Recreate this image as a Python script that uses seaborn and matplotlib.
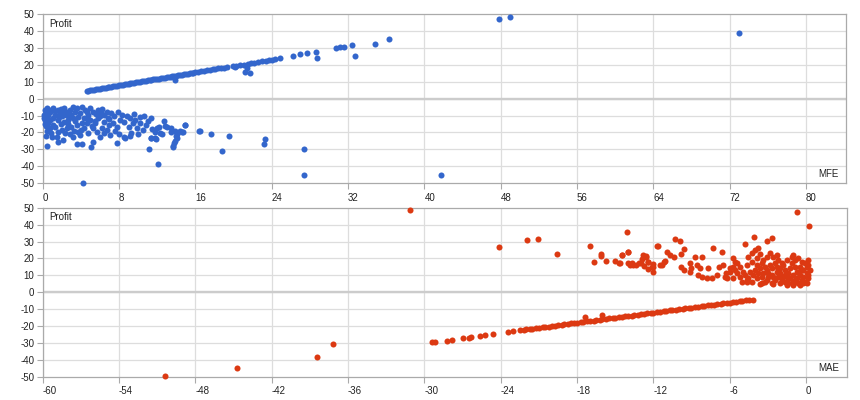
import pandas as pd
import matplotlib
matplotlib.use("Agg")
import matplotlib.pyplot as plt
import seaborn as sns

# ---- data ----
# top panel: MFE vs Profit
mfe_line = [4.6, 4.8, 5.0, 5.2, 5.4, 5.6, 5.8, 6.0, 6.2, 6.4, 6.6, 6.8, 7.0, 7.2, 7.4, 7.6,
            7.8, 8.0, 8.2, 8.4, 8.6, 8.8, 9.0, 9.2, 9.4, 9.6, 9.8, 10.0, 10.2, 10.4, 10.6,
            10.8, 11.0, 11.2, 11.4, 11.6, 11.8, 12.0, 12.2, 12.4, 12.6, 12.8, 13.0, 13.2,
            13.4, 13.6, 13.8, 14.0, 14.2, 14.4, 14.6, 14.8, 15.0, 15.2, 15.4, 15.6, 15.8,
            16.0, 16.3, 16.6, 16.9, 17.2, 17.5, 17.8, 18.1, 18.4, 18.7, 19.0, 19.3,
            19.9, 20.3, 20.7, 21.1, 21.5, 21.8, 22.2, 22.6, 23.0, 23.4, 23.7, 24.0, 24.3,
            24.9, 26.2, 27.0, 27.7, 28.6, 30.7, 31.2, 31.6, 32.4, 34.8, 36.3, 47.8, 49.0, 73.0]
profit_line = [4.7, 4.8, 5.0, 5.3, 5.4, 5.6, 5.8, 6.0, 6.2, 6.4, 6.6, 6.8, 7.0, 7.1, 7.4, 7.5,
               7.7, 7.9, 8.1, 8.3, 8.5, 8.7, 8.9, 9.1, 9.3, 9.4, 9.6, 9.8, 10.0, 10.2, 10.4,
               10.6, 10.8, 11.0, 11.2, 11.4, 11.5, 11.7, 11.9, 12.1, 12.3, 12.5, 12.7, 12.9,
               13.1, 13.3, 13.4, 13.6, 13.8, 14.0, 14.2, 14.4, 14.6, 14.8, 15.0, 15.2, 15.4,
               15.6, 15.8, 16.1, 16.4, 16.7, 17.0, 17.3, 17.6, 17.9, 18.1, 18.4, 18.7,
               19.3, 19.5, 19.9, 20.2, 20.7, 21.0, 21.4, 21.8, 22.2, 22.5, 22.9, 23.2, 23.5,
               24.3, 25.5, 26.3, 27.1, 27.8, 30.0, 30.4, 30.8, 31.6, 32.6, 35.5, 47.0, 48.4, 38.9]

mfe_other = [13.9, 21.2, 21.7, 21.4, 28.8, 32.7, 20.2]
profit_other = [11.1, 16.0, 15.4, 18.0, 24.3, 25.3, 18.6]

mfe_loss = [4.2, 0.4, 0.35, 4.1, 3.6, 5.1, 5.3, 7.8, 8.5, 9.2, 11.1, 12.1, 11.9, 11.3, 13.7,
            13.8, 14.1, 14.9, 14.6, 13.9, 13.4, 12.8, 12.2, 12.3, 12.5, 11.3, 11.0, 10.8,
            10.2, 9.9, 9.7, 9.2, 8.8, 8.5, 8.1, 7.8, 7.4, 7.2, 6.7, 6.4, 6.1, 5.8, 5.5, 5.3,
            5.7, 6.4, 6.7, 6.9, 7.1, 6.0, 4.8, 4.3, 3.7, 3.9, 3.2, 2.9, 2.3, 1.6, 1.5, 1.1,
            0.8, 0.6, 0.25, 0.14, 0.2, 0.4, 0.8, 1.1, 1.6, 1.8, 2.2, 2.5, 2.9, 3.2, 3.6, 4.1,
            4.4, 5.0, 5.3, 4.8, 4.3, 3.7, 3.2, 2.7, 2.2, 1.6, 1.1, 0.8, 0.4, 3.6, 3.0, 2.5,
            4.6, 5.0, 4.1, 5.8, 6.4, 7.9, 9.0, 9.5, 10.2, 10.6, 11.8, 12.0, 13.0, 13.5, 14.4,
            14.1, 9.3, 8.6, 1.6, 0.5, 1.3, 2.0, 2.6, 3.4, 1.9, 0.3, 0.9, 2.1, 14.7, 14.9,
            16.4, 16.5, 17.6, 18.8, 19.5, 23.2, 23.3, 13.7, 13.9, 14.0, 11.4, 11.8, 27.4,
            27.4, 41.7,
            0.3, 0.6, 0.9, 1.3, 1.9, 2.4, 2.8, 3.4, 3.9, 4.6, 5.6, 6.0, 6.8, 7.5, 8.3, 5.2,
            4.0, 2.0, 1.3, 0.5, 0.2, 1.0, 2.6, 3.3, 6.2, 7.6, 8.0, 10.5, 10.0, 11.5, 12.7,
            9.6, 0.15, 1.7, 2.3, 3.0, 4.7, 6.2, 7.0, 5.5]
profit_loss = [-50.0, -27.9, -22.0, -27.1, -27.1, -28.9, -25.9, -26.5, -22.6, -22.0, -30.1,
               -38.9, -24.1, -23.5, -28.5, -26.5, -23.1, -15.6, -19.6, -19.2, -17.6, -16.0,
               -16.6, -20.2, -21.2, -11.7, -13.3, -15.6, -14.6, -17.6, -12.7, -11.3, -10.1,
               -13.7, -12.7, -16.6, -14.6, -8.7, -7.7, -9.7, -7.7, -11.7, -14.6, -17.6, -19.6,
               -20.6, -18.6, -15.6, -21.6, -22.6, -20.6, -17.6, -19.6, -21.6, -22.6, -21.2,
               -20.2, -19.6, -22.6, -15.6, -17.6, -14.6, -12.7, -9.7, -6.7, -5.8, -7.7, -5.8,
               -6.7, -8.7, -5.8, -7.7, -6.7, -4.8, -5.8, -4.8, -6.7, -5.8, -7.7, -9.7, -11.7,
               -10.7, -11.7, -12.7, -13.7, -12.7, -11.7, -12.7, -10.7, -15.6, -16.6, -17.6,
               -14.6, -12.7, -14.6, -6.7, -13.7, -7.7, -16.6, -14.6, -11.0, -10.1, -19.6,
               -17.6, -16.6, -19.6, -19.0, -21.2, -20.6, -23.5, -25.5, -8.5, -9.5, -10.5, -9.0,
               -8.2, -15.0, -16.5, -20.5, -24.5, -19.9, -15.8, -19.0, -19.2, -21.0, -31.0,
               -21.9, -27.1, -23.7, -27.9, -25.4, -22.4, -23.5, -23.5, -30.0, -45.4, -45.4,
               -8.0, -9.5, -6.5, -7.2, -6.0, -9.8, -11.0, -13.5, -8.8, -8.0, -9.0, -10.5,
               -11.5, -10.0, -9.5, -16.0, -18.5, -18.5, -17.0, -19.0, -15.0, -22.5, -15.0,
               -19.0, -17.5, -19.0, -21.0, -18.5, -21.0, -18.0, -13.5, -9.0, -11.5, -11.0,
               -8.0, -9.8, -12.2, -6.0, -12.0, -13.2]

# bottom panel: MAE vs Profit
mae_line = [-29.4, -29.2, -28.2, -27.8, -27.0, -26.5, -26.3, -25.6, -25.2, -24.6, -23.4,
            -23.0, -22.5, -22.2, -22.0, -21.7, -21.5, -21.2, -21.0, -20.7, -20.5, -20.2,
            -20.0, -19.7, -19.5, -19.2, -19.0, -18.7, -18.5, -18.2, -18.0, -17.7, -17.5,
            -17.2, -17.0, -16.7, -16.5, -16.2, -16.0, -15.7, -15.5, -15.2, -15.0, -14.7,
            -14.5, -14.2, -14.0, -13.7, -13.5, -13.2, -13.0, -12.7, -12.5, -12.2, -12.0,
            -11.7, -11.5, -11.2, -11.0, -10.7, -10.5, -10.2, -10.0, -9.7, -9.5, -9.2, -9.0,
            -8.7, -8.5, -8.2, -8.0, -7.7, -7.5, -7.2, -7.0, -6.7, -6.5, -6.2, -6.0, -5.7,
            -5.5, -5.2, -5.0, -4.7, -4.5, -4.2, -17.4, -16.0]
profit_line2 = [-29.6, -29.5, -28.7, -28.3, -27.3, -26.9, -26.5, -25.7, -25.5, -24.7, -23.3,
                -22.9, -22.5, -22.1, -22.0, -21.8, -21.5, -21.3, -21.1, -20.8, -20.6, -20.3,
                -20.0, -19.8, -19.6, -19.2, -19.1, -18.8, -18.5, -18.3, -18.0, -17.8, -17.5,
                -17.3, -17.1, -16.8, -16.5, -16.3, -16.0, -15.8, -15.5, -15.3, -15.1, -14.8,
                -14.5, -14.3, -14.0, -13.8, -13.6, -13.3, -13.1, -12.8, -12.5, -12.3, -12.1,
                -11.8, -11.5, -11.3, -11.1, -10.8, -10.6, -10.3, -10.1, -9.8, -9.6, -9.3, -9.1,
                -8.8, -8.6, -8.3, -8.1, -7.8, -7.6, -7.3, -7.1, -6.8, -6.6, -6.3, -6.1, -5.8,
                -5.6, -5.3, -5.1, -4.8, -4.6, -4.4, -14.9, -13.5]

mae_gain = [-4.53, -4.27, -4.01, -3.74, -3.61, -3.87, -3.35, -3.09, -2.83, -2.57, -2.30, -2.17,
            -2.43, -2.83, -3.22, -3.61, -4.01, -4.40, -4.79, -5.18, -5.45, -5.71, -5.05, -4.66,
            -4.27, -3.87, -3.48, -3.09, -2.70, -2.30, -2.04, -1.78, -1.52, -1.26, -0.99, -0.73,
            -0.47, -0.21, 0.05, 0.18, -0.08, -0.34, -0.60, -0.86, -1.13, -1.39, -1.65, -1.91,
            -1.52, -1.13, -0.99, -0.86, -0.60, -0.34, -0.08, 0.05, 0.18, -0.21, -0.47, -0.73,
            -0.99, -1.39, -1.65, -1.91, -2.17, -2.43, -2.70, -2.96, -3.22, -3.48, -3.74, -4.14,
            -4.53, -4.92, -5.18, -5.45, -5.71, -5.97, -6.23, -6.36, -5.58, -4.66, -4.27, -3.87,
            -3.48, -3.09, -2.70, -2.30, 0.05, 0.18, 0.31, 0.18, -0.34, -0.86, -1.26, -1.65,
            -2.04, -2.57, -2.96, -3.35, -1.78, -1.13, -0.60, -0.21, -0.47, -0.99, -1.52, -2.04,
            -2.57, -3.61, -4.66,
            -0.7, 0.2, -4.1, -3.1, -2.7, -4.8, -10.3, -9.9, -11.6, -7.3, -14.0, -14.5, -12.8,
            -12.6, -10.9, -10.7, -10.4, -9.6, -9.8, -8.7, -8.2, -13.7, -13.4, -13.0, -11.3,
            -11.2, -11.1, -9.8, -9.6, -9.1, -9.0, -8.6, -8.3, -9.1, -8.5, -8.2, -7.8, -7.4,
            -7.0, -7.7, -6.8, -6.5, -6.3, -6.0, -5.6, -5.7, -14.6, -12.4, -12.1, -12.0, -6.6,
            -31.1, -24.1, -21.9, -21.1, -19.6, -17.0, -16.7, -16.1, -16.1, -15.7, -15.0, -14.7,
            -14.5, -14.1, -14.0, -14.0, -13.8, -13.6, -13.1, -12.9, -12.6, -12.4, -12.7, -12.4,
            -12.0, -12.0, -11.7, -11.5]
profit_gain = [21.0, 23.0, 25.0, 26.0, 22.4, 20.0, 19.1, 21.0, 23.0, 21.0, 22.0, 19.1,
               17.1, 16.1, 15.1, 14.1, 13.1, 11.8, 10.2, 9.2, 11.2, 8.2, 6.2, 7.2,
               5.8, 8.2, 9.2, 7.2, 10.2, 12.1, 14.1, 9.2, 6.2, 8.2, 10.2, 12.1,
               15.1, 13.1, 11.2, 8.2, 6.2, 7.2, 5.2, 7.2, 5.2, 11.2, 13.1, 17.1,
               19.1, 21.0, 22.0, 19.1, 20.0, 18.1, 17.1, 15.1, 16.1, 9.2, 10.2, 8.2,
               5.8, 8.2, 5.8, 7.2, 9.2, 7.2, 5.2, 9.2, 6.2, 5.2, 11.2, 10.2,
               8.2, 12.1, 15.1, 17.1, 15.1, 12.1, 8.2, 9.2, 13.1, 16.1, 18.1, 16.1,
               17.1, 13.1, 14.1, 15.1, 5.2, 10.2, 13.1, 19.1, 13.1, 15.1, 14.1, 10.2,
               11.2, 9.2, 11.2, 11.2, 16.1, 17.1, 12.1, 5.2, 4.2, 4.2, 4.2, 5.2,
               4.6, 4.6, 5.8,
               47.5, 39.4, 32.8, 30.5, 31.9, 28.3, 31.3, 30.5, 27.3, 25.9, 23.6, 22.0, 22.0,
               21.0, 23.6, 22.0, 21.0, 25.4, 22.8, 21.0, 21.0, 17.1, 16.1, 17.5, 16.1,
               18.0, 18.7, 15.1, 13.1, 17.1, 14.6, 16.1, 14.1, 12.1, 10.1, 9.2, 8.2, 8.6,
               10.1, 14.1, 15.1, 16.1, 11.1, 14.1, 18.0, 20.0, 17.1, 18.1, 15.1, 16.5, 23.6,
               48.6, 26.6, 30.7, 31.3, 22.8, 27.3, 18.0, 22.8, 21.4, 18.6, 18.3, 17.1,
               21.8, 35.8, 23.8, 17.0, 16.2, 15.8, 17.1, 19.6, 21.4, 17.7, 15.7, 13.7,
               15.1, 12.1, 27.5, 16.1]
mae_far = [-50.4, -44.7, -38.4, -37.2]
profit_far = [-49.8, -45.0, -38.3, -30.7]

top = pd.DataFrame({"MFE": mfe_line + mfe_other + mfe_loss,
                    "Profit": profit_line + profit_other + profit_loss})
bottom = pd.DataFrame({"MAE": mae_line + mae_gain + mae_far,
                       "Profit": profit_line2 + profit_gain + profit_far})

blue = "#3366cc"
red = "#dc3912"

sns.set_theme(style="white")
plt.rcParams["font.family"] = ["Liberation Sans", "DejaVu Sans"]
plt.rcParams["axes.unicode_minus"] = False

fig = plt.figure(figsize=(8.6, 4), dpi=100)
ax1 = fig.add_axes([42.7 / 860, 217 / 400, 803.3 / 860, 168.7 / 400])
ax2 = fig.add_axes([42.7 / 860, 23.3 / 400, 804.0 / 860, 169 / 400])

sns.scatterplot(data=top, x="MFE", y="Profit", ax=ax1, color=blue, s=19,
                linewidth=0, clip_on=False, zorder=3)
sns.scatterplot(data=bottom, x="MAE", y="Profit", ax=ax2, color=red, s=19,
                linewidth=0, clip_on=False, zorder=3)

panels = [(ax1, (0, 84.2), list(range(0, 81, 8)), "MFE"),
          (ax2, (-60, 3.2), list(range(-60, 1, 6)), "MAE")]

for ax, xlim, xticks, name in panels:
    ax.set_xlim(*xlim)
    ax.set_ylim(-50, 50)
    ax.set_xticks(xticks)
    ax.set_yticks(range(-50, 51, 10))
    ax.set_xlabel("")
    ax.set_ylabel("")
    for x in xticks:
        ax.axvline(x, color="#dddddd", lw=0.9, zorder=0)
    for y in range(-40, 50, 10):
        ax.axhline(y, color="#dddddd", lw=0.9, zorder=0)
    ax.axhline(0, color="#cccccc", lw=1.7, zorder=1)
    for sp in ax.spines.values():
        sp.set_color("#aaaaaa")
        sp.set_linewidth(0.9)
    ax.tick_params(axis="both", length=4, width=0.8, color="#aaaaaa",
                   labelsize=7, labelcolor="#222222", pad=2)
    ax.tick_params(axis="x", bottom=True, pad=3)
    ax.tick_params(axis="y", left=True)
    for lab in ax.get_xticklabels():
        lab.set_horizontalalignment("left")
    ax.text(0.008, 0.945, "Profit", transform=ax.transAxes, fontsize=7,
            color="#222222", ha="left", va="center")
    ax.text(0.991, 0.052, name, transform=ax.transAxes, fontsize=7,
            color="#222222", ha="right", va="center")

fig.savefig("out.png", dpi=100)
